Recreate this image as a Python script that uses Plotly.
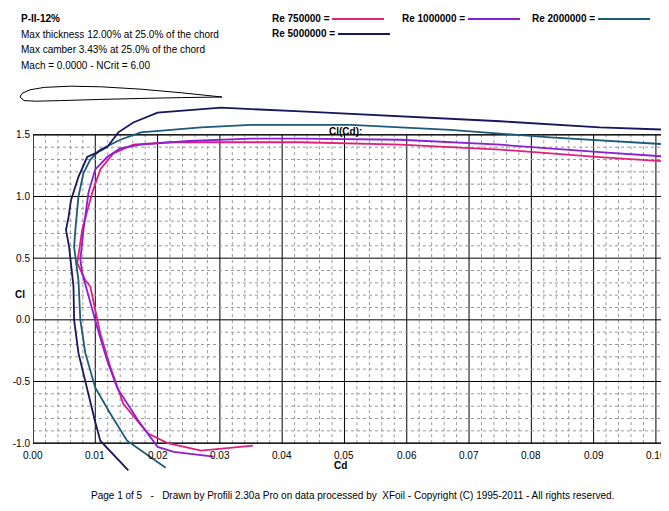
import plotly.graph_objects as go

# polar data (Cd, Cl)
cd_750k = [0.0353, 0.027, 0.0216, 0.0184, 0.0145, 0.0124, 0.0108, 0.0092, 0.0084, 0.0071, 0.0079,
           0.0095, 0.0108, 0.0129, 0.0161, 0.022, 0.035, 0.043, 0.059, 0.075, 0.091, 0.1026]
cl_750k = [-1.02, -1.06, -1.0, -0.92, -0.68, -0.38, -0.11, 0.27, 0.32, 0.46, 0.73,
           1.03, 1.22, 1.35, 1.42, 1.44, 1.44, 1.44, 1.42, 1.38, 1.32, 1.28]

cd_1m = [0.029, 0.0226, 0.020, 0.0168, 0.0135, 0.0119, 0.0103, 0.0089, 0.0079, 0.0076, 0.0081,
         0.0089, 0.0100, 0.0119, 0.014, 0.0173, 0.025, 0.035, 0.043, 0.059, 0.075, 0.091, 0.1026]
cl_1m = [-1.11, -1.07, -1.03, -0.81, -0.55, -0.33, -0.06, 0.19, 0.38, 0.49, 0.73,
         1.03, 1.22, 1.32, 1.39, 1.42, 1.45, 1.47, 1.47, 1.46, 1.42, 1.36, 1.32]

cd_2m = [0.0213, 0.0151, 0.0124, 0.0100, 0.0084, 0.0076, 0.0073, 0.0066, 0.0068, 0.0073, 0.0081,
         0.0092, 0.0108, 0.0124, 0.014, 0.0173, 0.0216, 0.027, 0.035, 0.051, 0.067, 0.083, 0.1026]
cl_2m = [-1.2, -0.98, -0.76, -0.55, -0.27, 0.0, 0.32, 0.59, 0.73, 1.0, 1.19,
         1.30, 1.38, 1.42, 1.46, 1.52, 1.54, 1.56, 1.58, 1.58, 1.54, 1.48, 1.42]

cd_5m = [0.0153, 0.0108, 0.0099, 0.0087, 0.0073, 0.0066, 0.0065, 0.0058, 0.0053, 0.0057, 0.0061,
         0.0073, 0.0087, 0.0100, 0.0119, 0.0137, 0.0161, 0.020, 0.0302, 0.043, 0.059, 0.075, 0.091, 0.1026]
cl_5m = [-1.22, -0.98, -0.81, -0.55, -0.27, 0.0, 0.27, 0.59, 0.73, 0.83, 0.97,
         1.16, 1.32, 1.35, 1.40, 1.52, 1.60, 1.68, 1.72, 1.69, 1.65, 1.61, 1.56, 1.54]

series = [
    ("Re 750000 =", cd_750k, cl_750k, "#e0207a"),
    ("Re 1000000 =", cd_1m, cl_1m, "#8a1fd6"),
    ("Re 2000000 =", cd_2m, cl_2m, "#1d5a78"),
    ("Re 5000000 =", cd_5m, cl_5m, "#17175e"),
]

x_ticks = [0.00, 0.01, 0.02, 0.03, 0.04, 0.05, 0.06, 0.07, 0.08, 0.09, 0.10]
y_ticks = [-1.0, -0.5, 0.0, 0.5, 1.0, 1.5]

# airfoil outline (chord fraction, thickness), rough
foil_x = [1.0, 0.8, 0.6, 0.4, 0.25, 0.12, 0.05, 0.01, 0.0, 0.02, 0.08, 0.2, 0.4, 0.6, 0.8, 1.0]
foil_y = [0.0, 0.035, 0.065, 0.085, 0.09, 0.08, 0.06, 0.03, 0.0, -0.03, -0.035, -0.03, -0.02, -0.012, -0.005, 0.0]

# page puts the figure 8px in from the top-left corner
OFF = 8
W, H = 669 - OFF, 511 - OFF
L, R, T, B = 25, 0, 96, 37
PW, PH = W - L - R, H - T - B


def px(x):
    return (x - OFF - L) / PW


def py(y):
    return 1 - (y - OFF - T) / PH


XMAX = 0.1021
fig = go.Figure()
for name, xs, ys, col in series:
    fig.add_trace(go.Scatter(x=xs, y=ys, mode="lines", line=dict(color=col, width=1.8),
                             showlegend=False, hoverinfo="skip"))

shapes = []
for i in range(52):
    v = i * 0.002
    if v > XMAX:
        break
    major = i % 5 == 0
    shapes.append(dict(type="line", xref="x", yref="y", x0=v, x1=v, y0=-1, y1=1.5, layer="below",
                       line=dict(color="black" if major else "#999", width=1,
                                 dash="solid" if major else "3px,3px")))
for i in range(26):
    v = -1 + i * 0.1
    major = i % 5 == 0
    shapes.append(dict(type="line", xref="x", yref="y", x0=0, x1=XMAX, y0=v, y1=v, layer="below",
                       line=dict(color="black" if major else "#999", width=1,
                                 dash="solid" if major else "3px,3px")))
shapes.append(dict(type="rect", xref="x", yref="y", x0=0, x1=XMAX, y0=-1, y1=1.5,
                   line=dict(color="black", width=1), layer="below"))

# airfoil sketch, chord from x=20 to x=222, centre line at y=97
path = ""
for i, (fx, fy) in enumerate(zip(foil_x, foil_y)):
    path += ("M" if i == 0 else "L") + f"{px(20 + fx * 202):.4f},{py(97 - fy * 120):.4f} "
shapes.append(dict(type="path", xref="paper", yref="paper", path=path + "Z",
                   line=dict(color="black", width=1)))

font = dict(family="Liberation Sans, Arial", size=10, color="black")
ann = []
for t in x_ticks:
    ann.append(dict(x=t, y=-1, xref="x", yref="y", text=f"{t:.2f}", showarrow=False,
                    yshift=-12, font=font))

info = ["<b>P-II-12%</b>", "Max thickness 12.00% at 25.0% of the chord",
        "Max camber 3.43% at 25.0% of the chord", "Mach = 0.0000 - NCrit = 6.00"]
for i, t in enumerate(info):
    ann.append(dict(x=px(19), y=py(19 + 15.5 * i), xref="paper", yref="paper", text=t,
                    showarrow=False, xanchor="left", yanchor="middle", font=font))

leg_pos = [(270, 19), (400, 19), (530, 19), (270, 34)]
for (name, _, _, col), (lx, ly) in zip(series, leg_pos):
    w = 62 if "750" in name else 68
    ann.append(dict(x=px(lx), y=py(ly), xref="paper", yref="paper", text=f"<b>{name}</b>",
                    showarrow=False, xanchor="left", yanchor="middle", font=font))
    shapes.append(dict(type="line", xref="paper", yref="paper", x0=px(lx + w), x1=px(lx + w + 52),
                       y0=py(ly), y1=py(ly), line=dict(color=col, width=2)))

ann += [
    dict(x=px(345), y=py(124), xref="paper", yref="paper", text="<b>Cl(Cd):</b>",
         showarrow=False, font=font),
    dict(x=px(13), y=py(294), xref="paper", yref="paper", text="<b>Cl</b>",
         showarrow=False, font=font),
    dict(x=px(340), y=py(473), xref="paper", yref="paper", text="<b>Cd</b>",
         showarrow=False, font=font),
    dict(x=px(352), y=py(503), xref="paper", yref="paper",
         text="Page 1 of 5   -   Drawn by Profili 2.30a Pro on data processed by  XFoil - Copyright (C) 1995-2011 - All rights reserved.",
         showarrow=False, font=font),
]

fig.update_layout(
    width=W, height=H, margin=dict(l=L, r=R, t=T, b=B),
    paper_bgcolor="white", plot_bgcolor="white", font=font,
    shapes=shapes, annotations=ann,
    xaxis=dict(range=[0, XMAX], showgrid=False, zeroline=False, showticklabels=False, showline=False),
    yaxis=dict(range=[-1.25, 1.75], tickvals=y_ticks, ticktext=[f"{v:.1f}" for v in y_ticks],
               showgrid=False, zeroline=False, showline=False, ticks="",
               tickfont=font, ticklabelstandoff=2),
)

fig.write_html("out.html")
